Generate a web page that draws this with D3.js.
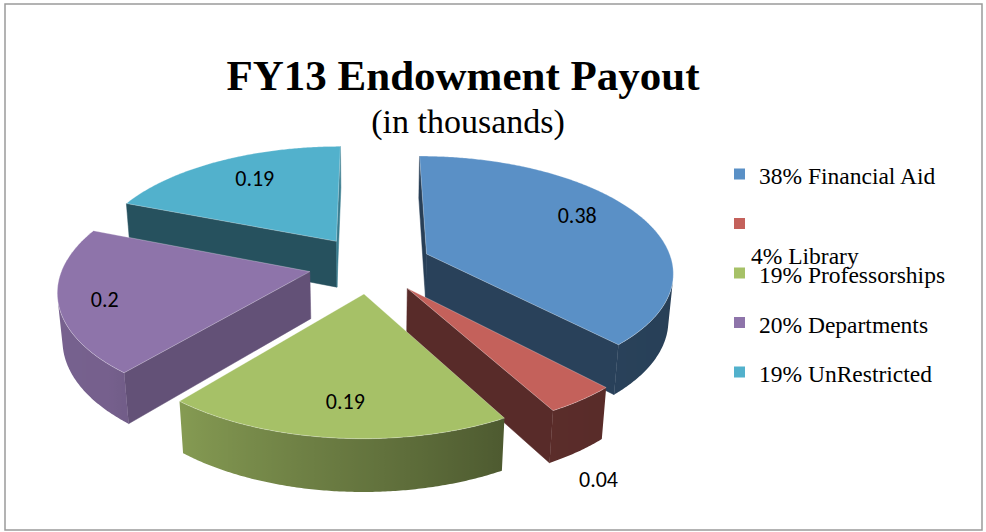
<!DOCTYPE html>
<html><head><meta charset="utf-8">
<script src="https://cdn.jsdelivr.net/npm/d3@7"></script>
<style>html,body{margin:0;padding:0;background:#fff;} svg{display:block}</style>
</head><body>
<svg id="chart" width="986" height="532"></svg>
<script>
// ---------- data ----------
const categories = ["Financial Aid", "Library", "Professorships", "Departments", "UnRestricted"];
const values = [0.38, 0.04, 0.19, 0.20, 0.19];
const titleText = "FY13 Endowment Payout";
const subtitleText = "(in thousands)";

// ---------- style ----------
const colors = ["#5A90C6", "#C4615B", "#A6C167", "#8E74AA", "#52B1CC"];
const W = 986, H = 532;
const svg = d3.select("#chart");
const defs = svg.append("defs");

// ---------- 3D camera ----------
const cam = {cx: 370, cy: 264.4, G: 1527, d: 6.2, phi: 27.75 * Math.PI / 180, h: 0.218, explode: 0.25};
const sP = Math.sin(cam.phi), cP = Math.cos(cam.phi);
const camPos = [0, -cam.d * cP, cam.d * sP];
const xScale = d3.scaleLinear().domain([0, 1]).range([cam.cx, cam.cx + cam.G]);
const yScale = d3.scaleLinear().domain([0, 1]).range([cam.cy, cam.cy - cam.G]);
function project(p) {
  const [X, Y, Z] = p;
  const w = cam.d + Y * cP - Z * sP;
  const up = Y * sP + Z * cP;
  return [xScale(X / w), yScale(up / w)];
}
function visible(n, p) {
  return n[0] * (camPos[0] - p[0]) + n[1] * (camPos[1] - p[1]) + n[2] * (camPos[2] - p[2]) > 0;
}
function poly(pts) {
  const pa = d3.path();
  pts.forEach((p, i) => { const q = project(p); i ? pa.lineTo(q[0], q[1]) : pa.moveTo(q[0], q[1]); });
  pa.closePath();
  return pa.toString();
}
function shade(col, f) { const c = d3.rgb(col); return d3.rgb(c.r * f, c.g * f, c.b * f).formatHex(); }
const curveShade = d3.scaleLinear().domain([90, 150, 225, 270]).range([0.43, 0.46, 0.83, 0.84]).clamp(true);
const radialShade = d3.scaleLinear().domain([130, 200, 270]).range([0.70, 0.46, 0.44]).clamp(true);
const deg = a => ((a * 180 / Math.PI) % 360 + 360) % 360;

// frame
svg.append("rect").attr("x", 5).attr("y", 4).attr("width", 977).attr("height", 526)
  .attr("fill", "#fff").attr("stroke", "#9a9a9a").attr("stroke-width", 1.5);

// titles
svg.append("text").attr("x", 463).attr("y", 90).attr("text-anchor", "middle")
  .attr("font-family", "Liberation Serif, Times New Roman, serif").attr("font-weight", "bold")
  .attr("font-size", 43).text(titleText);
svg.append("text").attr("x", 468).attr("y", 133).attr("text-anchor", "middle")
  .attr("font-family", "Liberation Serif, Times New Roman, serif")
  .attr("font-size", 34).text(subtitleText);

// ---------- pie ----------
const arcs = d3.pie().sort(null).startAngle(0).endAngle(2 * Math.PI)(values);
const slices = arcs.map((a, i) => {
  const mid = (a.startAngle + a.endAngle) / 2;
  return {a, i, mid, ox: cam.explode * Math.sin(mid), oy: cam.explode * Math.cos(mid)};
});
const gPie = svg.append("g");
const STEP = 0.5 * Math.PI / 180;
const h = cam.h;

slices.slice().sort((p, q) => q.oy - p.oy).forEach(s => {
  const g = gPie.append("g");
  const col = colors[s.i];
  const rim = (ang, Z) => [s.ox + Math.sin(ang), s.oy + Math.cos(ang), Z];
  const apex = Z => [s.ox, s.oy, Z];
  const a0 = s.a.startAngle, a1 = s.a.endAngle;
  // radial faces
  [[a0, -1], [a1, 1]].forEach(([ang, sg]) => {
    const n = [sg * Math.cos(ang), -sg * Math.sin(ang), 0];
    const pm = [s.ox + 0.5 * Math.sin(ang), s.oy + 0.5 * Math.cos(ang), -h / 2];
    if (visible(n, pm)) {
      const psi = deg(Math.atan2(n[0], n[1]));
      const c = shade(col, radialShade(psi));
      g.append("path").attr("d", poly([apex(0), rim(ang, 0), rim(ang, -h), apex(-h)]))
        .attr("fill", c).attr("stroke", c).attr("stroke-width", 0.5);
    }
  });
  // curved side: visible angular range, one path with horizontal gradient
  const nSeg = Math.max(2, Math.ceil((a1 - a0) / STEP));
  const vis = [];
  for (let k = 0; k <= nSeg; k++) {
    const t = a0 + (a1 - a0) * k / nSeg;
    if (visible([Math.sin(t), Math.cos(t), 0], rim(t, -h / 2))) vis.push(t);
  }
  if (vis.length > 1) {
    const topPts = vis.map(t => rim(t, 0));
    const botPts = vis.slice().reverse().map(t => rim(t, -h));
    const xs = vis.map(t => project(rim(t, 0))[0]);
    const xmin = d3.min(xs), xmax = d3.max(xs);
    const gid = "side" + s.i;
    const grad = defs.append("linearGradient").attr("id", gid)
      .attr("gradientUnits", "userSpaceOnUse")
      .attr("x1", xmin).attr("x2", xmax).attr("y1", 0).attr("y2", 0);
    const stops = vis.map((t, k) => ({off: (xs[k] - xmin) / Math.max(1e-6, xmax - xmin), c: shade(col, curveShade(deg(t)))}))
      .sort((p, q) => p.off - q.off);
    stops.forEach(st => grad.append("stop").attr("offset", st.off).attr("stop-color", st.c));
    g.append("path").attr("d", poly(topPts.concat(botPts))).attr("fill", `url(#${gid})`);
  }
  // top face
  const pts = [apex(0)];
  for (let k = 0; k <= nSeg; k++) pts.push(rim(a0 + (a1 - a0) * k / nSeg, 0));
  g.append("path").attr("d", poly(pts)).attr("fill", col)
    .attr("stroke", "rgba(255,255,255,0.35)").attr("stroke-width", 0.8);
});

// ---------- data labels ----------
const labelLayout = [
  {r: 0.70, dx: 0, dy: -11},
  {outside: true, dx: 21, dy: 27},
  {r: 0.77, dx: 3, dy: 0},
  {r: 0.82, dx: 0, dy: 3},
  {r: 0.70, dx: 3, dy: -5}
];
slices.forEach(s => {
  const L = labelLayout[s.i];
  let p;
  if (L.outside) p = project([s.ox + Math.sin(s.mid), s.oy + Math.cos(s.mid), -h]);
  else p = project([s.ox + L.r * Math.sin(s.mid), s.oy + L.r * Math.cos(s.mid), 0]);
  svg.append("text").attr("x", p[0] + L.dx).attr("y", p[1] + L.dy + 8)
    .attr("text-anchor", "middle").attr("font-family", "Carlito, Lato, sans-serif")
    .attr("font-size", 22).attr("fill", "#000").text(String(values[s.i]));
});

// ---------- legend ----------
const legend = svg.append("g").attr("font-family", "Liberation Serif, Times New Roman, serif").attr("font-size", 23.5);
const legY = d3.scaleLinear().domain([0, 4]).range([174, 372]);
categories.forEach((cat, i) => {
  const y = legY(i);
  legend.append("rect").attr("x", 734).attr("y", y - 5.5).attr("width", 11).attr("height", 11).attr("fill", colors[i]);
  const label = Math.round(values[i] * 100) + "% " + cat;
  if (i === 1) {
    legend.append("text").attr("x", 751).attr("y", y + 40).text(label);
  } else {
    legend.append("text").attr("x", 759).attr("y", y + 10).text(label);
  }
});
</script>
</body></html>
